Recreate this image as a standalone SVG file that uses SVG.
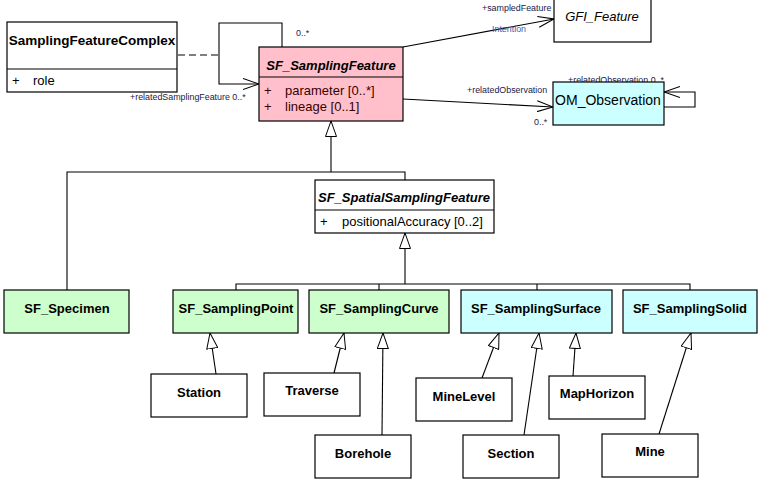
<svg xmlns="http://www.w3.org/2000/svg" width="774" height="500" viewBox="0 0 774 500">
<defs>
<style>
.box{stroke:#000;stroke-width:1.2}
.w{fill:#fff}.pk{fill:#ffc0cb}.gr{fill:#ccffcc}.cy{fill:#ccffff}
.t{font-family:"Liberation Sans",Arial,sans-serif;font-size:13px;font-weight:bold;fill:#000;text-anchor:middle}
.ti{font-style:italic}
.a{font-family:"Liberation Sans",Arial,sans-serif;font-size:13px;fill:#000}
.am{fill:#3a0000}
.lb{font-family:"Liberation Sans",Arial,sans-serif;font-size:8.9px;fill:#1a1a4a}
.ln{fill:none;stroke:#000;stroke-width:1.1}
.gen{marker-end:url(#tri)}
.asc{marker-end:url(#open)}
</style>
<marker id="tri" viewBox="0 0 16 12" refX="16" refY="6" markerWidth="16" markerHeight="12" markerUnits="userSpaceOnUse" orient="auto">
<path d="M0.5,0.5 L16,6 L0.5,11.5 Z" fill="#fff" stroke="#000" stroke-width="1"/>
</marker>
<marker id="open" viewBox="0 0 16 12" refX="16" refY="6" markerWidth="16" markerHeight="12" markerUnits="userSpaceOnUse" orient="auto">
<path d="M0,0.5 L16,6 L0,11.5" fill="none" stroke="#000" stroke-width="1.1"/>
</marker>
</defs>
<rect width="774" height="500" fill="#fff"/>

<g id="connectors">
<line class="ln" x1="178" y1="55" x2="219" y2="55" stroke-dasharray="7,4"/>
<path class="ln asc" d="M282,47 L282,23 L219,23 L219,84 L259,84"/>
<line class="ln asc" x1="403" y1="47" x2="554" y2="19"/>
<line class="ln asc" x1="403" y1="99" x2="553" y2="107"/>
<path class="ln asc" d="M664,107 L695,107 L695,92 L664,92"/>
<path class="ln" d="M67,290 L67,172 L405,172 L405,180"/>
<line class="ln gen" x1="331" y1="172" x2="331" y2="121"/>
<line class="ln gen" x1="405" y1="284" x2="405" y2="233"/>
<path class="ln" d="M236,290 L236,284 L690,284 L690,290 M379,284 L379,290 M537,284 L537,290"/>
<line class="ln gen" x1="216" y1="374" x2="210" y2="333"/>
<line class="ln gen" x1="334" y1="373" x2="344" y2="333"/>
<line class="ln gen" x1="382" y1="435" x2="383" y2="333"/>
<line class="ln gen" x1="482" y1="378" x2="499" y2="333"/>
<line class="ln gen" x1="524" y1="435" x2="539" y2="333"/>
<line class="ln gen" x1="573" y1="376" x2="576" y2="333"/>
<line class="ln gen" x1="659" y1="434" x2="691" y2="333"/>
<text class="lb" x="296" y="36">0..*</text>
<text class="lb" x="130" y="100">+relatedSamplingFeature 0..*</text>
<text class="lb" x="482" y="11">+sampledFeature</text>
<text class="lb" x="492" y="32" style="fill:#3a62a8">Intention</text>
<text class="lb" x="467" y="93">+relatedObservation</text>
<text class="lb" x="534" y="125">0..*</text>
<text class="lb" x="568" y="83">+relatedObservation 0..*</text>
</g>

<g id="SamplingFeatureComplex">
<rect class="box w" x="7" y="22" width="170" height="70"/>
<line class="box" x1="7" y1="69" x2="177" y2="69"/>
<text class="t" x="92" y="45" style="font-size:13.5px">SamplingFeatureComplex</text>
<text class="a" x="12" y="85">+</text>
<text class="a" x="33" y="85">role</text>
</g>

<g id="SF_SamplingFeature">
<rect class="box pk" x="259" y="47" width="144" height="74"/>
<line class="box" x1="259" y1="77" x2="403" y2="77"/>
<text class="t ti" x="331" y="70">SF_SamplingFeature</text>
<text class="a am" x="264" y="95">+</text>
<text class="a am" x="285" y="95">parameter [0..*]</text>
<text class="a am" x="264" y="111">+</text>
<text class="a am" x="285" y="111">lineage [0..1]</text>
</g>

<g id="GFI_Feature">
<rect class="box w" x="554" y="-2" width="97" height="44"/>
<text class="t ti" x="602" y="21" style="font-weight:normal;font-size:13px">GFI_Feature</text>
</g>

<g id="OM_Observation">
<rect class="box cy" x="553" y="82" width="111" height="43"/>
<text class="t" x="608" y="105" style="font-weight:normal;font-size:14px">OM_Observation</text>
</g>

<g id="SF_SpatialSamplingFeature">
<rect class="box w" x="315" y="180" width="179" height="53"/>
<line class="box" x1="315" y1="210" x2="494" y2="210"/>
<text class="t ti" x="404" y="202">SF_SpatialSamplingFeature</text>
<text class="a" x="320" y="226">+</text>
<text class="a" x="342" y="226">positionalAccuracy [0..2]</text>
</g>

<g id="SF_Specimen">
<rect class="box gr" x="4" y="290" width="125" height="43"/>
<text class="t" x="67" y="313">SF_Specimen</text>
</g>
<g id="SF_SamplingPoint">
<rect class="box gr" x="173" y="290" width="125" height="43"/>
<text class="t" x="236" y="313">SF_SamplingPoint</text>
</g>
<g id="SF_SamplingCurve">
<rect class="box gr" x="309" y="290" width="140" height="43"/>
<text class="t" x="379" y="313">SF_SamplingCurve</text>
</g>
<g id="SF_SamplingSurface">
<rect class="box cy" x="461" y="290" width="151" height="43"/>
<text class="t" x="536" y="313">SF_SamplingSurface</text>
</g>
<g id="SF_SamplingSolid">
<rect class="box cy" x="623" y="290" width="134" height="43"/>
<text class="t" x="690" y="313">SF_SamplingSolid</text>
</g>

<g id="Station">
<rect class="box w" x="151" y="374" width="96" height="43"/>
<text class="t" x="199" y="397">Station</text>
</g>
<g id="Traverse">
<rect class="box w" x="264" y="373" width="96" height="43"/>
<text class="t" x="312" y="395">Traverse</text>
</g>
<g id="Borehole">
<rect class="box w" x="315" y="435" width="96" height="43"/>
<text class="t" x="363" y="458">Borehole</text>
</g>
<g id="MineLevel">
<rect class="box w" x="416" y="378" width="96" height="43"/>
<text class="t" x="464" y="401">MineLevel</text>
</g>
<g id="MapHorizon">
<rect class="box w" x="549" y="376" width="96" height="43"/>
<text class="t" x="597" y="398">MapHorizon</text>
</g>
<g id="Section">
<rect class="box w" x="463" y="435" width="96" height="43"/>
<text class="t" x="511" y="458">Section</text>
</g>
<g id="Mine">
<rect class="box w" x="602" y="434" width="96" height="43"/>
<text class="t" x="650" y="456">Mine</text>
</g>
</svg>
